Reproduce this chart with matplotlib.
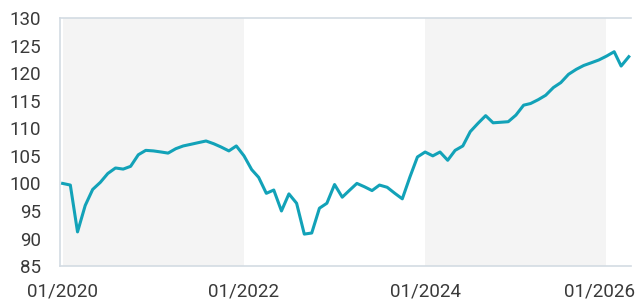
import pandas as pd
import matplotlib
matplotlib.use('Agg')
import matplotlib.pyplot as plt
import matplotlib.dates as mdates
import matplotlib.transforms as mtransforms

plt.rcParams['font.family'] = ['Roboto', 'DejaVu Sans']

# monthly index values, 01/2020 .. 04/2026
dates = pd.date_range('2020-01-01', periods=76, freq='MS')
values = [100.0, 99.7, 91.2, 96.0, 98.9, 100.2, 101.8, 102.8, 102.6, 103.1, 105.2, 106.0,
          105.9, 105.7, 105.5, 106.3, 106.8, 107.1, 107.4, 107.7, 107.2, 106.6, 105.9, 106.8,
          105.0, 102.5, 101.1, 98.2, 98.8, 95.0, 98.1, 96.4, 90.8, 91.0, 95.5, 96.4,
          99.8, 97.5, 98.7, 100.0, 99.4, 98.7, 99.7, 99.3, 98.2, 97.2, 101.2, 104.8,
          105.7, 105.0, 105.7, 104.2, 106.0, 106.8, 109.4, 110.9, 112.3, 111.0, 111.1, 111.2,
          112.4, 114.2, 114.5, 115.2, 116.0, 117.4, 118.3, 119.8, 120.7, 121.4, 121.9, 122.4,
          123.1, 123.9, 121.3, 123.0]
shaded = [('2020-01-01', '2022-01-01'), ('2024-01-01', '2026-01-01')]
xticks = ['2020-01-01', '2022-01-01', '2024-01-01', '2026-01-01']
yticks = list(range(85, 131, 5))

fig = plt.figure(figsize=(6.4, 3.02), dpi=100)
ax = fig.add_axes([0.094, 0.119, 0.892, 0.821])

for a, b in shaded:
    ax.axvspan(pd.Timestamp(a), pd.Timestamp(b), color='#f4f4f4', lw=0, zorder=0)

ax.plot(dates, values, color='#12a2b8', lw=2.2, zorder=3)

ax.set_ylim(85, 130)
ax.set_yticks(yticks)
ax.set_xlim(pd.Timestamp('2019-12-22'), pd.Timestamp('2026-04-10'))
ax.set_xticks([pd.Timestamp(t) for t in xticks])
ax.xaxis.set_major_formatter(mdates.DateFormatter('%m/%Y'))

for s in ['left', 'bottom', 'top']:
    ax.spines[s].set_color('#d3dbe3')
    ax.spines[s].set_linewidth(1.2)
ax.spines['right'].set_visible(False)
ax.tick_params(length=0, labelsize=13.5, colors='#3a3a3a')
ax.tick_params(axis='x', pad=12)
ax.tick_params(axis='y', pad=14)

# nudge last label so it stays inside the figure
last = ax.get_xticklabels()[-1]
last.set_transform(last.get_transform() + mtransforms.ScaledTranslation(-5/72, 0, fig.dpi_scale_trans))

fig.savefig('out.png', dpi=100)
